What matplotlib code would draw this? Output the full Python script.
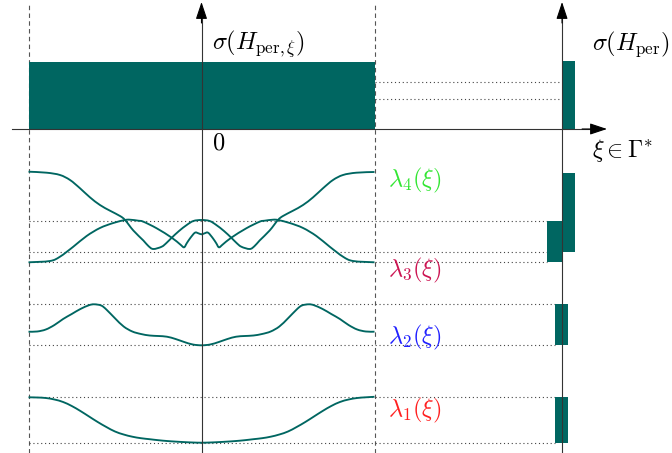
import numpy as np
import matplotlib
matplotlib.use("Agg")
import matplotlib.pyplot as plt
from matplotlib.patches import Rectangle, PathPatch
from matplotlib.path import Path

plt.rcParams["mathtext.fontset"] = "cm"
plt.rcParams["font.family"] = "DejaVu Serif"

# --- data (xi in units of the zone half-width, energy in arbitrary units) ---
TEAL = "#006661"

xi_1 = [-1.0, -0.95, -0.9, -0.85, -0.8, -0.75, -0.7, -0.65, -0.6, -0.55, -0.5,
        -0.45, -0.4, -0.35, -0.3, -0.25, -0.2, -0.15, -0.1, -0.05, 0.0,
        0.05, 0.1, 0.15, 0.2, 0.25, 0.3, 0.35, 0.4, 0.45, 0.5,
        0.55, 0.6, 0.65, 0.7, 0.75, 0.8, 0.85, 0.9, 0.95, 1.0]
lam_1 = [0.557, 0.555, 0.55, 0.535, 0.51, 0.47, 0.42, 0.365, 0.31, 0.26, 0.215,
         0.185, 0.163, 0.148, 0.138, 0.128, 0.12, 0.114, 0.109, 0.105, 0.103,
         0.105, 0.109, 0.114, 0.12, 0.128, 0.138, 0.148, 0.163, 0.185, 0.215,
         0.26, 0.31, 0.365, 0.42, 0.47, 0.51, 0.535, 0.55, 0.557, 0.562]

xi_2 = [-1.0, -0.95, -0.9, -0.85, -0.8, -0.75, -0.7, -0.65, -0.62, -0.58, -0.55,
        -0.5, -0.45, -0.4, -0.35, -0.3, -0.25, -0.2, -0.15, -0.1, -0.05, 0.0,
        0.05, 0.1, 0.15, 0.2, 0.25, 0.3, 0.35, 0.4, 0.45, 0.5,
        0.55, 0.58, 0.62, 0.65, 0.7, 0.75, 0.8, 0.85, 0.9, 0.95, 1.0]
lam_2 = [1.213, 1.215, 1.235, 1.28, 1.34, 1.39, 1.44, 1.478, 1.487, 1.475, 1.435,
         1.347, 1.265, 1.215, 1.19, 1.175, 1.17, 1.163, 1.14, 1.11, 1.085, 1.077,
         1.085, 1.11, 1.14, 1.163, 1.17, 1.175, 1.19, 1.215, 1.265, 1.347,
         1.435, 1.475, 1.487, 1.478, 1.44, 1.39, 1.34, 1.28, 1.235, 1.215, 1.213]

xi_3 = [-1.0, -0.876, -0.818, -0.741, -0.664, -0.587, -0.51, -0.442, -0.413,
        -0.365, -0.336, -0.259, -0.172, -0.124, -0.101, -0.0855, -0.066, -0.038,
        -0.018, 0.0, 0.018, 0.038, 0.066, 0.0855, 0.101, 0.124, 0.172, 0.259,
        0.336, 0.365, 0.413, 0.442, 0.51, 0.587, 0.664, 0.741, 0.818, 0.876, 1.0]
lam_3 = [1.907, 1.92, 1.963, 2.063, 2.17, 2.25, 2.30, 2.33, 2.333,
         2.323, 2.313, 2.247, 2.153, 2.087, 2.057, 2.097, 2.147, 2.203,
         2.197, 2.187, 2.197, 2.203, 2.147, 2.097, 2.057, 2.087, 2.153, 2.247,
         2.313, 2.323, 2.333, 2.33, 2.30, 2.25, 2.17, 2.063, 1.963, 1.92, 1.907]

xi_4 = [-1.0, -0.895, -0.818, -0.76, -0.702, -0.645, -0.587, -0.529, -0.471,
        -0.442, -0.394, -0.336, -0.307, -0.279, -0.23, -0.201, -0.172, -0.13,
        -0.0855, -0.047, 0.0, 0.047, 0.0855, 0.13, 0.172, 0.201, 0.23, 0.279,
        0.307, 0.336, 0.394, 0.442, 0.471, 0.529, 0.587, 0.645, 0.702, 0.76,
        0.818, 0.895, 1.0]
lam_4 = [2.813, 2.803, 2.78, 2.73, 2.647, 2.557, 2.48, 2.423, 2.37,
         2.33, 2.225, 2.125, 2.07, 2.04, 2.063, 2.103, 2.153, 2.22,
         2.28, 2.32, 2.33, 2.32, 2.28, 2.22, 2.153, 2.103, 2.063, 2.04,
         2.07, 2.125, 2.225, 2.33, 2.37, 2.423, 2.48, 2.557, 2.647, 2.73,
         2.78, 2.803, 2.81]

# spectrum of H_per (bars on the right axis)
band_names = ["1", "2", "3", "4"]
band_lo = [0.103, 1.077, 1.907, 2.013]
band_hi = [0.557, 1.487, 2.323, 2.803]
band_colors = ["#ff2020", "#2020ff", "#cc1452", "#33e633"]
band_label_y = [0.43, 1.16, 1.83, 2.73]

# fibre spectrum sigma(H_per,xi) at the top, and gap guides on the right
axis_level = 3.24
fibre_top = 3.91
per_top = 3.92
gap_lines = [3.71, 3.54]

XI_AXIS = 2.084  # position of the sigma(H_per) axis


def smooth_path(xs, ys):
    """Cubic Bezier path through every point (Catmull-Rom tangents)."""
    p = np.column_stack([xs, ys]).astype(float)
    verts = [p[0]]
    codes = [Path.MOVETO]
    n = len(p)
    for i in range(n - 1):
        p0 = p[max(i - 1, 0)]
        p1, p2 = p[i], p[i + 1]
        p3 = p[min(i + 2, n - 1)]
        c1 = p1 + (p2 - p0) / 6.0
        c2 = p2 - (p3 - p1) / 6.0
        verts += [c1, c2, p2]
        codes += [Path.CURVE4] * 3
    return Path(verts, codes)


fig = plt.figure(figsize=(6.72, 4.53), dpi=100)
ax = fig.add_axes([0, 0, 1, 1])
ax.set_xlim(-201.5 / 173, 470.5 / 173)
ax.set_ylim(0, 4.53)
ax.axis("off")

# dashed zone boundaries
for x in (-1, 1):
    ax.plot([x, x], [0, 4.48], ls=(0, (4, 3)), color="#555555", lw=0.8, zorder=1)

# dotted band edge guides
dot = dict(ls=(0, (1, 2.5)), color="#444444", lw=0.8, zorder=1)
bar_left = [2.043, 2.043, 1.999, 1.999]
for lo, hi, bl in zip(band_lo[:2], band_hi[:2], bar_left[:2]):
    for y in (lo, hi):
        ax.plot([-1, bl], [y, y], **dot)
for y in (band_lo[2], band_lo[3], band_hi[2]):
    ax.plot([-1, bar_left[2]], [y, y], **dot)
for y in gap_lines:
    ax.plot([1, XI_AXIS], [y, y], **dot)

# band curves
for xs, ys in [(xi_1, lam_1), (xi_2, lam_2), (xi_3, lam_3), (xi_4, lam_4)]:
    ax.add_patch(PathPatch(smooth_path(xs, ys), facecolor="none",
                           edgecolor=TEAL, lw=1.35, zorder=3))

# spectrum bars
bar_x = [(2.043, 2.118), (2.043, 2.118), (1.999, 2.082), (2.082, 2.159)]
for (x0, x1), lo, hi in zip(bar_x, band_lo, band_hi):
    ax.add_patch(Rectangle((x0, lo), x1 - x0, hi - lo, color=TEAL, lw=0, zorder=2))

ax.add_patch(Rectangle((-1, axis_level), 2, fibre_top - axis_level,
                       color=TEAL, lw=0, zorder=2))
ax.add_patch(Rectangle((XI_AXIS, axis_level), 0.075, per_top - axis_level,
                       color=TEAL, lw=0, zorder=2))

# axes with arrows
arrow = dict(arrowstyle="-|>,head_length=0.75,head_width=0.25", color="black",
             lw=0.8, shrinkA=0, shrinkB=0, mutation_scale=14)
ax.plot([0, 0], [0, 4.4], color="#333333", lw=0.8, zorder=4)
ax.annotate("", xy=(0, 4.51), xytext=(0, 4.3), arrowprops=arrow, zorder=5)
ax.plot([XI_AXIS, XI_AXIS], [0, 4.4], color="#333333", lw=0.8, zorder=4)
ax.annotate("", xy=(XI_AXIS, 4.51), xytext=(XI_AXIS, 4.3), arrowprops=arrow, zorder=5)
ax.plot([-1.095, 2.25], [axis_level, axis_level], color="#333333", lw=0.8, zorder=4)
ax.annotate("", xy=(2.344, axis_level), xytext=(2.2, axis_level),
            arrowprops=arrow, zorder=5)

# labels
fs = 17.5
ax.text(0.061, 4.09, r"$\sigma(H_{\rm per,\xi})$", fontsize=fs, va="center", ha="left")
ax.text(2.257, 4.09, r"$\sigma(H_{\rm per})$", fontsize=fs, va="center", ha="left")
ax.text(2.257, 3.03, r"$\xi\in\Gamma^{*}$", fontsize=fs, va="center", ha="left")
ax.text(0.061, 3.10, r"$0$", fontsize=fs, va="center", ha="left")
for name, c, y in zip(band_names, band_colors, band_label_y):
    ax.text(1.078, y, r"$\lambda_{%s}(\xi)$" % name, fontsize=fs, color=c,
            va="center", ha="left")

fig.savefig("out.png", dpi=100)
